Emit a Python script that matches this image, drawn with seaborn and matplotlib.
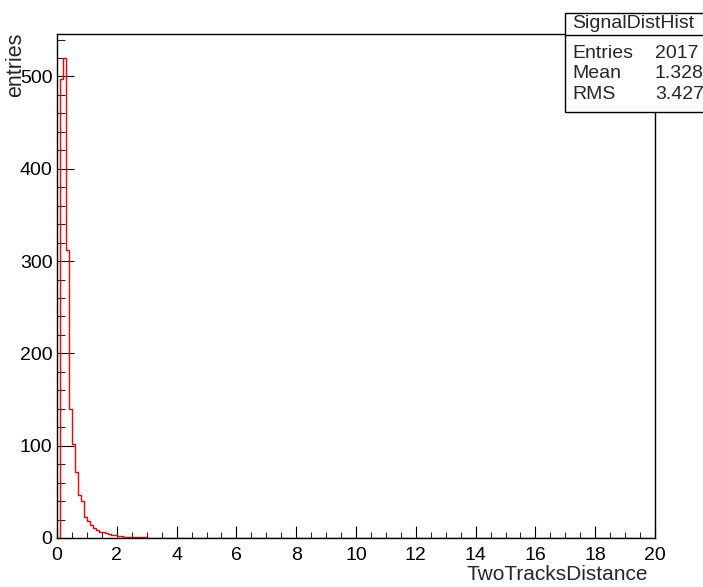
import numpy as np
import pandas as pd
import matplotlib
matplotlib.use("Agg")
import matplotlib.pyplot as plt
from matplotlib.patches import Rectangle
from matplotlib.lines import Line2D
from matplotlib.ticker import MultipleLocator
import seaborn as sns

# ---------------- data ----------------
hist_name = "SignalDistHist"
x_title = "TwoTracksDistance"
y_title = "entries"
x_min, x_max, n_bins = 0.0, 20.0, 200
counts_head = [0, 497, 520, 312, 140, 102, 72, 47, 40, 23,
               18, 14, 11, 9, 7, 6, 5, 4, 3, 3,
               2, 2, 1, 1, 1, 1, 1, 1, 1, 1]
counts = counts_head + [0] * (n_bins - len(counts_head))
stat_labels = ["Entries", "Mean", "RMS"]
stat_values = ["2017", "1.328", "3.427"]

# ---------------- style ----------------
sns.set_style("ticks")
plt.rcParams["font.family"] = ["Liberation Sans", "DejaVu Sans"]

W, H, DPI = 703, 587, 100
fig = plt.figure(figsize=(W / DPI, H / DPI), dpi=DPI)
ax = fig.add_axes([57 / W, 1 - 538 / H, (655 - 57) / W, (538 - 34) / H])

edges = np.linspace(x_min, x_max, n_bins + 1)
centers = 0.5 * (edges[:-1] + edges[1:])
df = pd.DataFrame({"x": centers, "w": counts})
sns.histplot(data=df, x="x", weights="w", bins=n_bins,
             binrange=(x_min, x_max), element="step",
             fill=False, color="#ff0000", linewidth=1.0, ax=ax)

ax.set_xlim(x_min, x_max)
ax.set_ylim(0, 1.05 * max(counts))

ax.xaxis.set_major_locator(MultipleLocator(2))
ax.xaxis.set_minor_locator(MultipleLocator(0.5))
ax.yaxis.set_major_locator(MultipleLocator(100))
ax.yaxis.set_minor_locator(MultipleLocator(20))

for s in ax.spines.values():
    s.set_visible(True)
    s.set_linewidth(1.0)
    s.set_color("black")

ax.tick_params(axis="x", which="major", direction="in", length=8.8, width=0.8,
               labelsize=14, pad=6.5, top=False, colors="black")
ax.tick_params(axis="x", which="minor", direction="in", length=4.6, width=0.8,
               top=False)
ax.tick_params(axis="y", which="major", direction="in", length=12.0, width=0.8,
               labelsize=14, pad=3.2, right=False, colors="black")
ax.tick_params(axis="y", which="minor", direction="in", length=6.0, width=0.8,
               right=False)

ax.set_xlabel(x_title, fontsize=15, ha="right")
ax.xaxis.set_label_coords((648 - 57) / 598, (538 - 565) / 504)
ax.set_ylabel(y_title, fontsize=15.5, loc="top")
ax.yaxis.set_label_coords(-0.052, 1.0 + 1 / 504)

# ---------------- stats box ----------------
def fx(px):
    return px / W

def fy(py):
    return 1 - py / H

box = Rectangle((fx(565), fy(112)), fx(725) - fx(565), fy(13) - fy(112),
                transform=fig.transFigure, facecolor="white",
                edgecolor="black", linewidth=1.0, zorder=5)
fig.add_artist(box)
fig.add_artist(Line2D([fx(565), fx(725)], [fy(35), fy(35)],
                      transform=fig.transFigure, color="black",
                      linewidth=1.0, zorder=6))
fig.text(fx(572), fy(23), hist_name, ha="left", va="center", fontsize=14,
         zorder=7)
row_y = [53, 74, 94.5]
for lab, val, yy in zip(stat_labels, stat_values, row_y):
    fig.text(fx(572), fy(yy), lab, ha="left", va="center", fontsize=14,
             zorder=7)
    fig.text(fx(655), fy(yy), val, ha="left", va="center", fontsize=14,
             zorder=7)

fig.savefig("out.png", dpi=DPI)
